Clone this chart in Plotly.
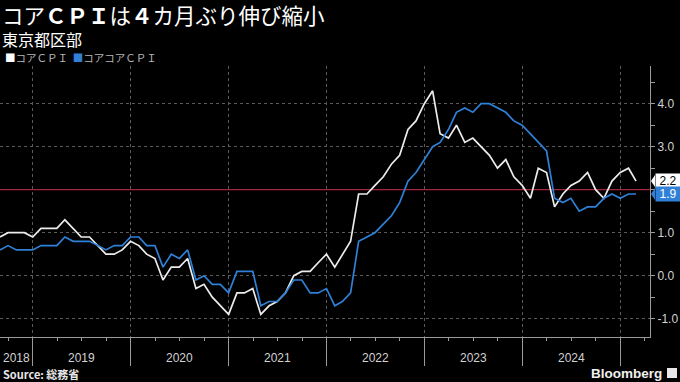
import pandas as pd
import plotly.graph_objects as go

# ---------------- data (monthly, Aug 2018 - Feb 2025, % y/y) ----------------
START_MONTH = "2018-08-31"
core_cpi = [
    0.9, 1.0, 1.0, 1.0, 0.9,                                      # 2018 Aug-Dec
    1.1, 1.1, 1.1, 1.3, 1.1, 0.9, 0.9, 0.7, 0.5, 0.5, 0.6, 0.8,   # 2019
    0.7, 0.5, 0.4, -0.1, 0.2, 0.2, 0.4, -0.3, -0.2, -0.5, -0.7, -0.9,  # 2020
    -0.4, -0.4, -0.3, -0.9, -0.7, -0.6, -0.4, 0.0, 0.1, 0.1, 0.3, 0.5,  # 2021
    0.2, 0.5, 0.8, 1.9, 1.9, 2.1, 2.3, 2.6, 2.8, 3.4, 3.6, 4.0,   # 2022
    4.3, 3.3, 3.2, 3.5, 3.1, 3.2, 3.0, 2.8, 2.5, 2.7, 2.3, 2.1,   # 2023
    1.8, 2.5, 2.4, 1.6, 1.9, 2.1, 2.2, 2.4, 2.0, 1.8, 2.2, 2.4,   # 2024
    2.5, 2.2,                                                     # 2025 Jan-Feb
]
core_core_cpi = [
    0.6, 0.7, 0.6, 0.6, 0.6,                                      # 2018 Aug-Dec
    0.7, 0.7, 0.7, 0.9, 0.8, 0.8, 0.8, 0.7, 0.6, 0.7, 0.7, 0.9,   # 2019
    0.9, 0.7, 0.7, 0.2, 0.5, 0.4, 0.6, -0.1, 0.0, -0.2, -0.2, -0.4,  # 2020
    0.1, 0.1, 0.1, -0.7, -0.6, -0.6, -0.4, -0.1, -0.1, -0.4, -0.4, -0.3,  # 2021
    -0.7, -0.6, -0.4, 0.8, 0.9, 1.0, 1.2, 1.4, 1.7, 2.2, 2.4, 2.7,  # 2022
    3.0, 3.1, 3.4, 3.8, 3.9, 3.8, 4.0, 4.0, 3.9, 3.8, 3.6, 3.5,   # 2023
    3.3, 3.1, 2.9, 1.8, 1.7, 1.8, 1.5, 1.6, 1.6, 1.8, 1.9, 1.8,   # 2024
    1.9, 1.9,                                                     # 2025 Jan-Feb
]
series_names = ["コアＣＰＩ", "コアコアＣＰＩ"]
year_labels = ["2018", "2019", "2020", "2021", "2022", "2023", "2024"]
y_tick_values = [-1.0, 0.0, 1.0, 3.0, 4.0]
TARGET = 2.0

title = "コア<b>ＣＰＩ</b>は<b>４</b>カ月ぶり伸び縮小"
subtitle = "東京都区部"
source = "<b>Source: 総務省</b>"

# ---------------- styling ----------------
WHITE = "#ececec"
BLUE = "#2f80d6"
RED = "#a3263d"
GRID = "#5a5a5a"
AXIS = "#9a9a9a"
TICKFONT = "#d2d2d2"
JP = "Noto Sans CJK JP"
LAT = "Liberation Sans"

months = pd.date_range(START_MONTH, periods=len(core_cpi), freq="ME")
x_start = pd.Timestamp("2018-08-31")
x_end = pd.Timestamp("2025-04-21")

fig = go.Figure()
for name, vals, col in [(series_names[0], core_cpi, WHITE),
                        (series_names[1], core_core_cpi, BLUE)]:
    fig.add_trace(go.Scatter(x=months, y=vals, mode="lines", name=name,
                             line=dict(color=col, width=1.7),
                             showlegend=False, hoverinfo="skip"))

fig.update_layout(
    width=680, height=382,
    paper_bgcolor="black", plot_bgcolor="black",
    margin=dict(l=0, r=30, t=66, b=45),
    showlegend=False,
    font=dict(family=LAT, color=TICKFONT, size=12),
)

fig.update_xaxes(
    range=[x_start, x_end],
    tickmode="linear", tick0="2019-01-01", dtick="M12",
    showticklabels=False,
    ticks="outside", ticklen=28, tickcolor=AXIS, tickwidth=1,
    showgrid=True, gridcolor=GRID, griddash="dot", gridwidth=1,
    showline=True, linecolor=AXIS, linewidth=1,
    minor=dict(dtick="M3", tick0="2019-01-01", ticks="outside", ticklen=3,
               tickcolor=AXIS, showgrid=False),
    zeroline=False,
)
fig.update_yaxes(
    side="right", range=[-1.426, 4.877],
    tickmode="array", tickvals=y_tick_values,
    ticktext=[f"{v:.1f}" for v in y_tick_values],
    tickfont=dict(family=LAT, size=12, color=TICKFONT),
    ticks="outside", ticklen=4, tickcolor=AXIS,
    showgrid=True, gridcolor=GRID, griddash="dot", gridwidth=1,
    showline=True, linecolor=AXIS, linewidth=1,
    minor=dict(dtick=0.5, tick0=0, ticks="outside", ticklen=4,
               tickcolor=AXIS, showgrid=False),
    zeroline=False, automargin=False,
)

# 2% reference line
fig.add_shape(type="line", xref="paper", x0=0, x1=1, yref="y",
              y0=TARGET, y1=TARGET, line=dict(color=RED, width=1.2),
              layer="between")

# title, subtitle, legend, source
fig.add_annotation(text=title, xref="paper", yref="paper", x=0, y=1,
                   xanchor="left", yanchor="middle", showarrow=False,
                   xshift=0, yshift=(66 - 14),
                   font=dict(family=JP, size=21.5, color="white"))
fig.add_annotation(text=subtitle, xref="paper", yref="paper", x=0, y=1,
                   xanchor="left", yanchor="middle", showarrow=False,
                   yshift=(66 - 38.5),
                   font=dict(family=JP, size=16, color="white"))
legend_text = (f"<span style='color:white'>■</span>{series_names[0]}"
               f"  <span style='color:{BLUE}'>■</span>{series_names[1]}")
fig.add_annotation(text=legend_text, xref="paper", yref="paper", x=0, y=1,
                   xanchor="left", yanchor="middle", showarrow=False,
                   xshift=3, yshift=(66 - 57.5),
                   font=dict(family=JP, size=10.5, color="#b8b8b8"))
fig.add_annotation(text=source, xref="paper", yref="paper", x=0, y=0,
                   xanchor="left", yanchor="middle", showarrow=False,
                   xshift=1, yshift=-(374 - 337),
                   font=dict(family=JP, size=11, color="#e8e8e8"))
fig.add_annotation(text="<b>Bloomberg</b>", xref="paper", yref="paper",
                   x=1, y=0, xanchor="right", yanchor="middle",
                   showarrow=False, xshift=14, yshift=-(373 - 337),
                   font=dict(family=LAT, size=13.5, color="#f0f0f0"))
fig.add_shape(type="rect", xref="paper", yref="paper",
              xsizemode="pixel", ysizemode="pixel", xanchor=1, yanchor=0,
              x0=17, x1=27, y0=-31, y1=-41,
              fillcolor="#e8e8e8", line=dict(width=0))

# year labels centred within each visible year span
for lab in year_labels:
    ys = max(pd.Timestamp(f"{lab}-01-01"), x_start)
    ye = min(pd.Timestamp(f"{int(lab) + 1}-01-01"), x_end)
    mid = ys + (ye - ys) / 2
    fig.add_annotation(text=lab, x=mid, xref="x", yref="paper", y=0,
                       yanchor="middle", xanchor="center", showarrow=False,
                       yshift=-(358 - 337),
                       font=dict(family=LAT, size=12, color=TICKFONT))

# last-value tags
for vals, bg, fg in [(core_cpi, "white", "black"), (core_core_cpi, BLUE, "white")]:
    last = vals[-1]
    fig.add_annotation(text=f"{last:.1f}", xref="paper", x=1, yref="y", y=last,
                       xanchor="left", yanchor="middle", showarrow=False,
                       xshift=5, bgcolor=bg, borderpad=1, width=22, height=12,
                       align="center",
                       font=dict(family=LAT, size=12, color=fg))
    fig.add_shape(type="path", xref="paper", yref="y",
                  xsizemode="pixel", ysizemode="pixel", xanchor=1, yanchor=last,
                  path="M 1 0 L 5 6 L 5 -6 Z", fillcolor=bg, line=dict(width=0))

fig.write_html("out.html",
               config={"displayModeBar": False},
               post_script=["document.body.style.margin='0';"
                            "document.body.style.overflow='hidden';"])
